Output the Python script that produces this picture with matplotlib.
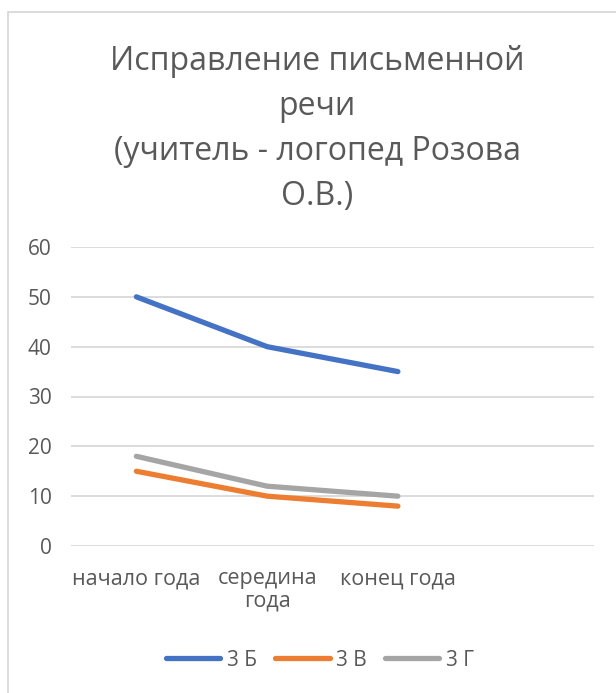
import matplotlib.pyplot as plt
from matplotlib.patches import Rectangle

plt.rcParams['font.family'] = ['Open Sans', 'DejaVu Sans']

# data
categories = ['начало года', 'середина\nгода', 'конец года', '']
series_names = ['3 Б', '3 В', '3 Г']
values_b = [50, 40, 35]
values_v = [15, 10, 8]
values_g = [18, 12, 10]
colors = ['#4472C4', '#ED7D31', '#A5A5A5']
yticks = [0, 10, 20, 30, 40, 50, 60]
title_lines = ['Исправление письменной', 'речи',
               '(учитель - логопед Розова', 'О.В.)']

W, H = 616, 693
text_col = '#595959'
grid_col = '#D9D9D9'

fig = plt.figure(figsize=(W / 100, H / 100), dpi=100)

# chart frame (runs off the right and bottom edge like the screenshot)
fig.patches.append(Rectangle((8 / W, -0.05), 1.05, 1 - 12 / H + 0.05,
                             transform=fig.transFigure, fill=False,
                             edgecolor=grid_col, linewidth=1.3))

ax = fig.add_axes([71 / W, 1 - 546 / H, (594 - 71) / W, (546 - 247) / H])

x = list(range(len(categories)))
for vals, name, c in zip([values_b, values_v, values_g], series_names, colors):
    ax.plot(x[:len(vals)], vals, color=c, linewidth=3.8,
            solid_capstyle='round', solid_joinstyle='round', label=name)

ax.set_xlim(-0.5, len(categories) - 0.5)
ax.set_ylim(0, 60)
ax.set_yticks(yticks)
ax.set_xticks(x)
ax.set_xticklabels(categories, fontsize=15.5, color=text_col, linespacing=1.1)
ax.tick_params(axis='y', labelsize=15, colors=text_col, length=0, pad=14)
ax.tick_params(axis='x', length=0, pad=16)
ax.grid(axis='y', color=grid_col, linewidth=1.3)
ax.set_axisbelow(True)
for s in ax.spines.values():
    s.set_visible(False)

# title, line by line
for i, line in enumerate(title_lines):
    fig.text(317 / W, 1 - (70 + 45 * i) / H, line, ha='center', va='baseline',
             fontsize=23, color=text_col)

leg = fig.legend(loc='center', bbox_to_anchor=(320 / W, 1 - 660 / H),
                 ncol=3, frameon=False, fontsize=15, handlelength=2.6,
                 handletextpad=0.3, columnspacing=0.9)
for t in leg.get_texts():
    t.set_color(text_col)

fig.savefig('out.png', dpi=100)
